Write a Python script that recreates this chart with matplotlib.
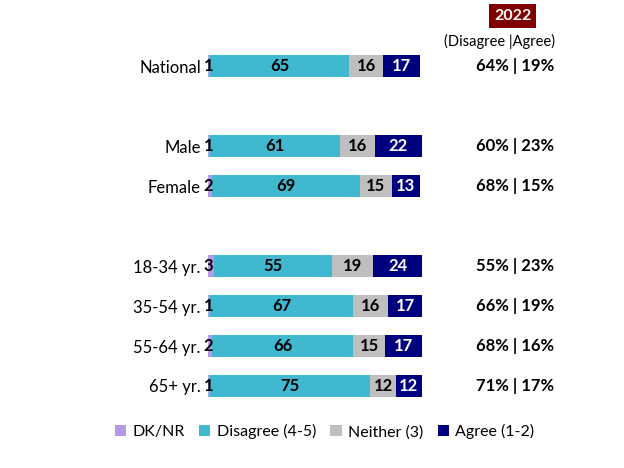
import matplotlib.pyplot as plt

plt.rcParams['font.family'] = ['Lato', 'DejaVu Sans']

# data
groups = ['National', '', 'Male', 'Female', '', '18-34 yr.', '35-54 yr.', '55-64 yr.', '65+ yr.']
dk_nr = [1, None, 1, 2, None, 3, 1, 2, 1]
disagree = [65, None, 61, 69, None, 55, 67, 66, 75]
neither = [16, None, 16, 15, None, 19, 16, 15, 12]
agree = [17, None, 22, 13, None, 24, 17, 17, 12]
summary = ['64% | 19%', '', '60% | 23%', '68% | 15%', '', '55% | 23%', '66% | 19%', '68% | 16%', '71% | 17%']

series = [('DK/NR', dk_nr, '#B69AE8', 'black'),
          ('Disagree (4-5)', disagree, '#3FB8D0', 'black'),
          ('Neither (3)', neither, '#BFBFBF', 'black'),
          ('Agree (1-2)', agree, '#00007F', 'white')]

fig = plt.figure(figsize=(6.24, 4.68), dpi=100)
ax = fig.add_axes([0.333, 0.1325, 0.343, 0.769])

ypos = list(range(len(groups)))
left = [0] * len(groups)
for name, vals, color, tcolor in series:
    for i, v in enumerate(vals):
        if v is None:
            continue
        ax.barh(i, v, left=left[i], height=0.55, color=color,
                label=name if i == 0 else None)
        if name == 'DK/NR':
            ax.text(left[i] + 0.3, i, str(v), ha='center', va='center',
                    fontsize=12, fontweight='bold', color=tcolor)
        else:
            ax.text(left[i] + v / 2, i, str(v), ha='center', va='center',
                    fontsize=12, fontweight='bold', color=tcolor)
        left[i] += v

ax.set_xlim(0, 100)
ax.set_ylim(len(groups) - 0.5, -0.5)
ax.set_yticks(ypos)
ax.set_yticklabels(groups, fontsize=12)
ax.tick_params(axis='y', length=0, pad=5)
ax.set_xticks([])
for s in ax.spines.values():
    s.set_visible(False)

# right column
fig.text(0.822, 0.966, '2022', ha='center', va='center', fontsize=11.5,
         fontweight='bold', color='white',
         bbox=dict(boxstyle='square,pad=0.3', facecolor='#7F0000', edgecolor='none'))
fig.text(0.80, 0.912, '(Disagree |Agree)', ha='center', va='center', fontsize=10.5)
for i, s in enumerate(summary):
    if s:
        y = 1 - (66 + 40 * i) / 468
        fig.text(0.825, y, s, ha='center', va='center', fontsize=12, fontweight='bold')

fig.legend(loc='center', bbox_to_anchor=(0.52, 0.077), ncol=4, frameon=False,
           fontsize=11.5, handlelength=0.7, handleheight=0.7, handletextpad=0.4,
           columnspacing=0.9)

plt.savefig('out.png', dpi=100)
